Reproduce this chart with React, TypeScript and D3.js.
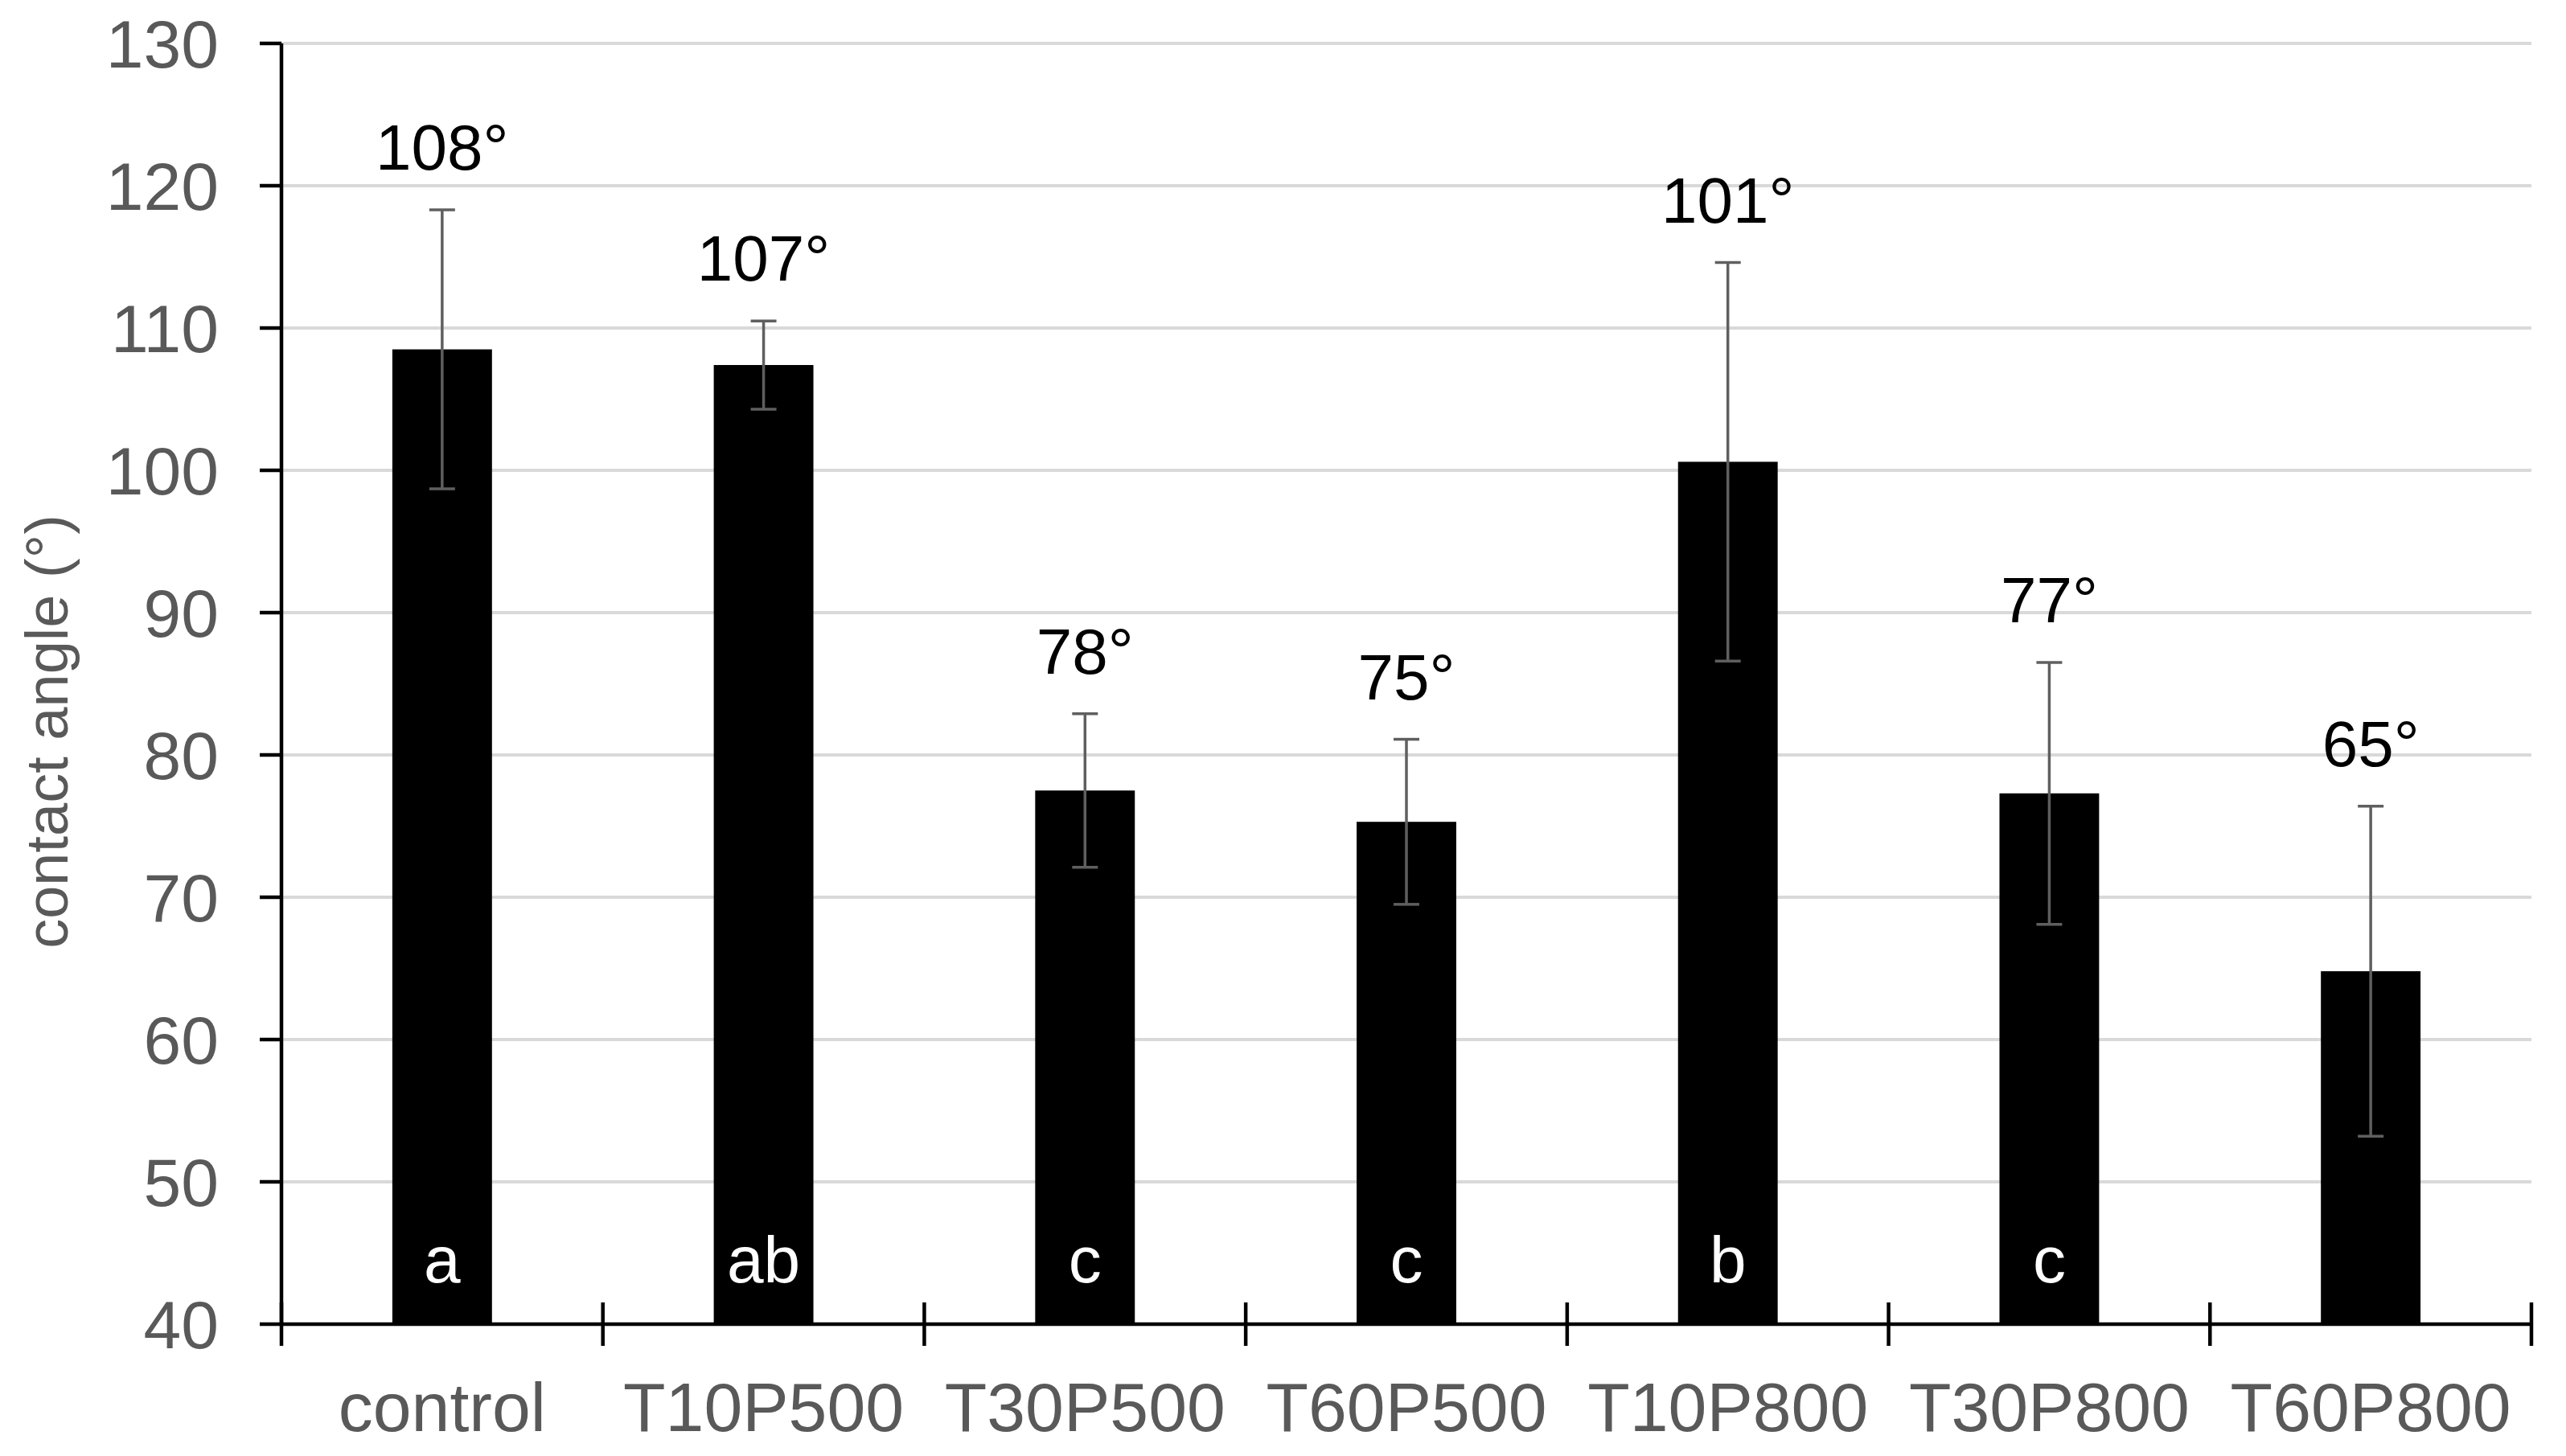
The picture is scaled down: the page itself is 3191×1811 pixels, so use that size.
import React from "react";
import * as d3 from "d3";

const categories = ["control", "T10P500", "T30P500", "T60P500", "T10P800", "T30P800", "T60P800"];
const means = [108.5, 107.4, 77.5, 75.3, 100.6, 77.3, 64.8];
const errors = [9.8, 3.1, 5.4, 5.8, 14.0, 9.2, 11.6];
const valueLabels = ["108°", "107°", "78°", "75°", "101°", "77°", "65°"];
const groupLetters = ["a", "ab", "c", "c", "b", "c", ""];
const yTicks = [40, 50, 60, 70, 80, 90, 100, 110, 120, 130];

const W = 3191;
const H = 1811;
const margin = { top: 54, right: 43, bottom: 164, left: 350 };
const font = "'Liberation Sans', Arial, sans-serif";

const App = () => {
  const svgRef = React.useRef<SVGSVGElement>(null);

  React.useEffect(() => {
    const svg = d3.select(svgRef.current);
    svg.selectAll("*").remove();

    const x0 = margin.left;
    const x1 = W - margin.right;
    const yBottom = H - margin.bottom;

    // x scale for the category slots, bar scale for the narrower bars
    const xScale = d3.scaleBand().domain(categories).range([x0, x1]).padding(0);
    const barScale = d3
      .scaleBand()
      .domain(categories)
      .range([x0, x1])
      .paddingInner(0.69)
      .paddingOuter(0.345);

    const yScale = d3.scaleLinear().domain([40, 130]).range([yBottom, margin.top]);

    const g = svg.append("g");

    // gridlines
    g.selectAll(".grid")
      .data(yTicks.filter((d) => d > 40))
      .join("line")
      .attr("x1", x0)
      .attr("x2", x1)
      .attr("y1", (d) => yScale(d))
      .attr("y2", (d) => yScale(d))
      .attr("stroke", "#d9d9d9")
      .attr("stroke-width", 4);

    // bars
    g.selectAll(".bar")
      .data(categories)
      .join("rect")
      .attr("x", (d) => barScale(d)!)
      .attr("width", barScale.bandwidth())
      .attr("y", (d, i) => yScale(means[i]))
      .attr("height", (d, i) => yBottom - yScale(means[i]))
      .attr("fill", "#000");

    // error bars
    const cap = 16;
    categories.forEach((c, i) => {
      const cx = barScale(c)! + barScale.bandwidth() / 2;
      const hi = yScale(means[i] + errors[i]);
      const lo = yScale(means[i] - errors[i]);
      const eb = g.append("g").attr("stroke", "#5f5f5f").attr("stroke-width", 3.5);
      eb.append("line").attr("x1", cx).attr("x2", cx).attr("y1", hi).attr("y2", lo);
      eb.append("line").attr("x1", cx - cap).attr("x2", cx + cap).attr("y1", hi).attr("y2", hi);
      eb.append("line").attr("x1", cx - cap).attr("x2", cx + cap).attr("y1", lo).attr("y2", lo);

      // value label above error bar
      g.append("text")
        .attr("x", cx)
        .attr("y", hi - 50)
        .attr("text-anchor", "middle")
        .attr("font-family", font)
        .attr("font-size", 80)
        .attr("fill", "#000")
        .text(valueLabels[i]);

      // significance letter inside bar
      if (groupLetters[i]) {
        g.append("text")
          .attr("x", cx)
          .attr("y", yBottom - 52)
          .attr("text-anchor", "middle")
          .attr("font-family", font)
          .attr("font-size", 82)
          .attr("fill", "#fff")
          .text(groupLetters[i]);
      }
    });

    // y axis
    g.append("line")
      .attr("x1", x0)
      .attr("x2", x0)
      .attr("y1", margin.top)
      .attr("y2", yBottom)
      .attr("stroke", "#000")
      .attr("stroke-width", 4.5);

    g.selectAll(".ytick")
      .data(yTicks)
      .join("line")
      .attr("x1", x0 - 27)
      .attr("x2", x0)
      .attr("y1", (d) => yScale(d))
      .attr("y2", (d) => yScale(d))
      .attr("stroke", "#000")
      .attr("stroke-width", 4.5);

    g.selectAll(".ylabel")
      .data(yTicks)
      .join("text")
      .attr("x", 272)
      .attr("y", (d) => yScale(d))
      .attr("dy", "0.36em")
      .attr("text-anchor", "end")
      .attr("font-family", font)
      .attr("font-size", 84)
      .attr("fill", "#595959")
      .text((d) => d);

    // x axis
    g.append("line")
      .attr("x1", x0)
      .attr("x2", x1)
      .attr("y1", yBottom)
      .attr("y2", yBottom)
      .attr("stroke", "#000")
      .attr("stroke-width", 4.5);

    const boundaries = categories.map((c) => xScale(c)!).concat([x1]);
    g.selectAll(".xtick")
      .data(boundaries)
      .join("line")
      .attr("x1", (d) => d)
      .attr("x2", (d) => d)
      .attr("y1", yBottom - 27)
      .attr("y2", yBottom + 27)
      .attr("stroke", "#000")
      .attr("stroke-width", 4.5);

    g.selectAll(".xlabel")
      .data(categories)
      .join("text")
      .attr("x", (d) => xScale(d)! + xScale.bandwidth() / 2)
      .attr("y", 1780)
      .attr("text-anchor", "middle")
      .attr("font-family", font)
      .attr("font-size", 86)
      .attr("fill", "#595959")
      .text((d) => d);

    // y axis title
    g.append("text")
      .attr("transform", `translate(84,910) rotate(-90)`)
      .attr("text-anchor", "middle")
      .attr("font-family", font)
      .attr("font-size", 74)
      .attr("fill", "#595959")
      .text("contact angle (°)");
  }, []);

  return (
    <svg
      ref={svgRef}
      width={W}
      height={H}
      style={{ position: "absolute", left: 0, top: 0, display: "block", background: "#fff" }}
    />
  );
};

export default App;
